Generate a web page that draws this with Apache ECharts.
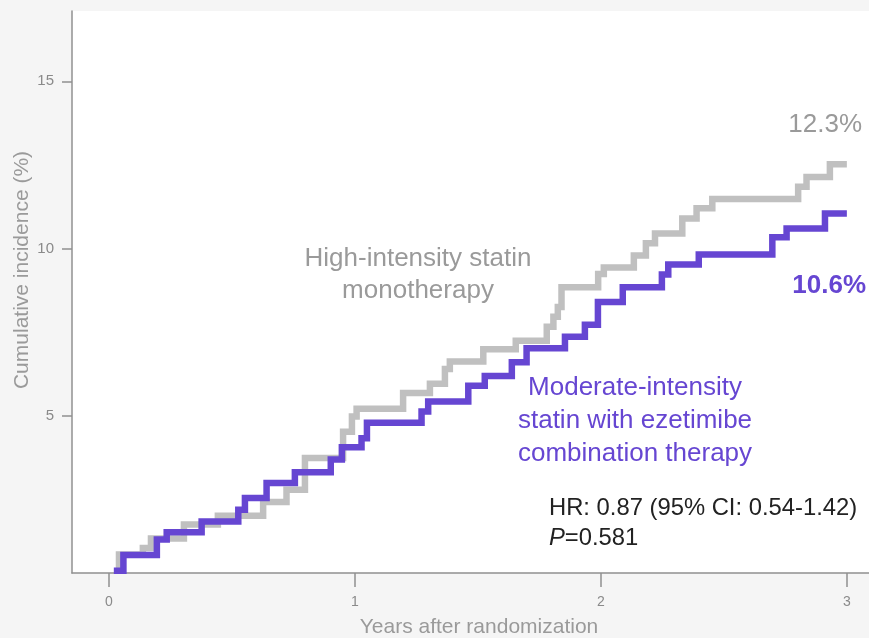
<!DOCTYPE html>
<html>
<head>
<meta charset="utf-8">
<title>Cumulative incidence</title>
<script src="https://cdn.jsdelivr.net/npm/echarts@6/dist/echarts.min.js"></script>
<style>
  html, body { margin: 0; padding: 0; background: #f5f5f5; }
  #chart { width: 869px; height: 638px; }
</style>
</head>
<body>
<div id="chart"></div>
<script>
// Kaplan-Meier style cumulative incidence, step times (years) and values (%)
const highTimes = [0.03, 0.041, 0.138, 0.171, 0.305, 0.443, 0.627, 0.722, 0.797, 0.952, 0.988, 1.007, 1.196, 1.305, 1.366, 1.386, 1.522, 1.654, 1.780, 1.807, 1.825, 1.840, 1.989, 2.012, 2.134, 2.183, 2.220, 2.331, 2.389, 2.453, 2.802, 2.836, 2.931, 3.0];
const highRisk  = [0.40, 0.85, 1.05, 1.33, 1.75, 2.01, 2.42, 2.79, 3.74, 4.52, 4.98, 5.21, 5.68, 5.96, 6.40, 6.62, 6.99, 7.24, 7.66, 7.96, 8.25, 8.84, 9.24, 9.43, 9.79, 10.16, 10.45, 10.90, 11.20, 11.48, 11.85, 12.14, 12.52, 12.52];

const modTimes = [0.02, 0.059, 0.195, 0.235, 0.377, 0.526, 0.553, 0.641, 0.756, 0.902, 0.947, 1.027, 1.049, 1.271, 1.298, 1.461, 1.528, 1.638, 1.698, 1.854, 1.935, 1.988, 2.089, 2.248, 2.274, 2.398, 2.697, 2.755, 2.911, 3.0];
const modRisk  = [0.37, 0.84, 1.30, 1.52, 1.84, 2.19, 2.54, 2.99, 3.31, 3.69, 4.06, 4.33, 4.79, 5.13, 5.43, 5.90, 6.19, 6.60, 7.02, 7.36, 7.72, 8.40, 8.84, 9.22, 9.52, 9.82, 10.34, 10.60, 11.05, 11.05];

const xTicks = [0, 1, 2, 3];
const yTicks = [5, 10, 15];

const highLabel = 'High-intensity statin\nmonotherapy';
const modLabel = 'Moderate-intensity\nstatin with ezetimibe\ncombination therapy';
const highEnd = '12.3%';
const modEnd = '10.6%';
const hrText = 'HR: 0.87 (95% CI: 0.54-1.42)';
const pText = '0.581';

const FONT = '"Liberation Sans", Arial, Helvetica, sans-serif';
const GREY = '#c0c0c0';
const PURPLE = '#6646d2';
const TEXT_GREY = '#9a9a9a';

const pairs = (xs, ys) => xs.map((x, i) => [x, ys[i]]);

const chart = echarts.init(document.getElementById('chart'), null, { renderer: 'canvas' });

chart.setOption({
  backgroundColor: '#f5f5f5',
  animation: false,
  grid: {
    left: 72, right: 0, top: 11, bottom: 65,
    show: true, backgroundColor: '#ffffff', borderWidth: 0
  },
  xAxis: {
    type: 'value',
    min: -0.15, max: 3.09,
    splitLine: { show: false },
    axisLine: { show: true, onZero: false, lineStyle: { color: '#909090', width: 1.5 } },
    axisTick: { show: true, length: 14, customValues: xTicks, lineStyle: { color: '#909090', width: 1.5 } },
    axisLabel: { customValues: xTicks, margin: 22, color: '#8a8a8a', fontSize: 14, fontFamily: FONT }
  },
  yAxis: {
    type: 'value',
    min: 0.3, max: 17.1,
    splitLine: { show: false },
    axisLine: { show: true, onZero: false, lineStyle: { color: '#909090', width: 1.5 } },
    axisTick: { show: true, length: 10, customValues: yTicks, lineStyle: { color: '#909090', width: 1.5 } },
    axisLabel: { customValues: yTicks, margin: 18, color: '#8a8a8a', fontSize: 15, fontFamily: FONT }
  },
  series: [
    {
      name: 'High-intensity statin monotherapy',
      type: 'line',
      step: 'end',
      symbol: 'none',
      data: pairs(highTimes, highRisk),
      lineStyle: { color: GREY, width: 6.5, cap: 'butt', join: 'miter' },
      z: 2
    },
    {
      name: 'Moderate-intensity statin with ezetimibe combination therapy',
      type: 'line',
      step: 'end',
      symbol: 'none',
      data: pairs(modTimes, modRisk),
      lineStyle: { color: PURPLE, width: 6.5, cap: 'butt', join: 'miter' },
      z: 3
    }
  ],
  graphic: [
    {
      type: 'text', x: 22.5, y: 270, rotation: Math.PI / 2,
      style: { text: 'Cumulative incidence (%)', font: '21px ' + FONT, fill: TEXT_GREY, align: 'center', verticalAlign: 'middle' }
    },
    {
      type: 'text', x: 479, y: 627,
      style: { text: 'Years after randomization', font: '21px ' + FONT, fill: TEXT_GREY, align: 'center', verticalAlign: 'middle' }
    },
    {
      type: 'text', x: 418, y: 275,
      style: { text: highLabel, font: '26px ' + FONT, lineHeight: 32, fill: TEXT_GREY, align: 'center', verticalAlign: 'middle' }
    },
    {
      type: 'text', x: 635, y: 421,
      style: { text: modLabel, font: '26px ' + FONT, lineHeight: 33, fill: PURPLE, align: 'center', verticalAlign: 'middle' }
    },
    {
      type: 'text', x: 862, y: 125,
      style: { text: highEnd, font: '26px ' + FONT, fill: TEXT_GREY, align: 'right', verticalAlign: 'middle' }
    },
    {
      type: 'text', x: 866, y: 286,
      style: { text: modEnd, font: 'bold 26px ' + FONT, fill: PURPLE, align: 'right', verticalAlign: 'middle' }
    },
    {
      type: 'text', x: 549, y: 508,
      style: { text: hrText, font: '23.8px ' + FONT, fill: '#222222', align: 'left', verticalAlign: 'middle' }
    },
    {
      type: 'text', x: 549, y: 538,
      style: {
        text: '{i|P}=' + pText,
        font: '23.8px ' + FONT, fill: '#222222', align: 'left', verticalAlign: 'middle',
        rich: { i: { font: 'italic 23.8px ' + FONT, fill: '#222222' } }
      }
    }
  ]
});
</script>
</body>
</html>
